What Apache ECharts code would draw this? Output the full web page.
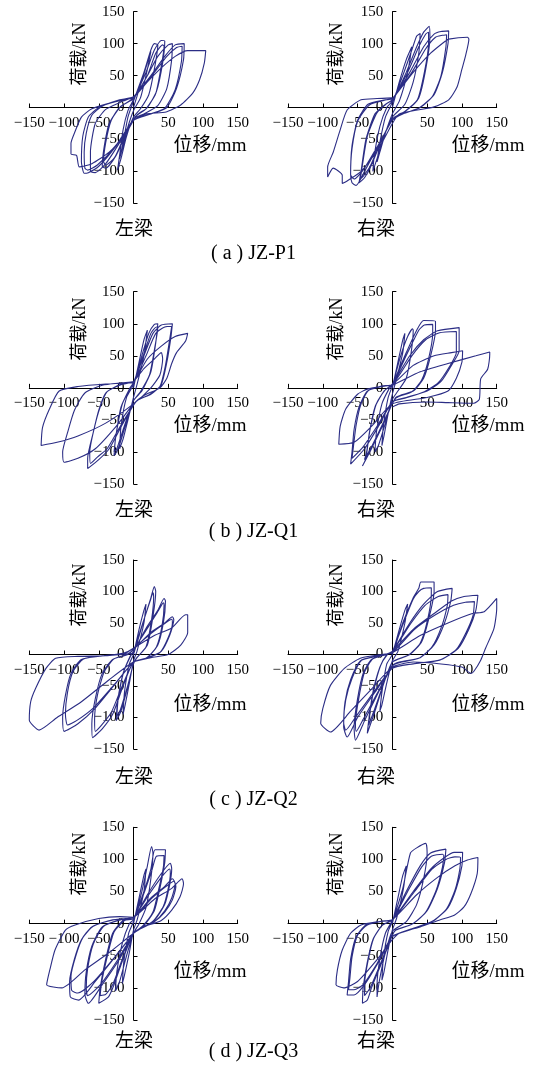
<!DOCTYPE html>
<html>
<head>
<meta charset="utf-8">
<script src="https://cdn.jsdelivr.net/npm/echarts@6/dist/echarts.min.js"></script>
<style>
html, body { margin: 0; padding: 0; background: #fff; }
#main { width: 538px; height: 1073px; }
</style>
</head>
<body>
<div id="main"></div>
<script>
// 刻度
const xTicks = [-150, -100, -50, 0, 50, 100, 150]
const xTickText = ['−150', '−100', '−50', '', '50', '100', '150']
const yTickText = ['−150', '−100', '−50', '0', '50', '100', '150']

const captions = ['( a ) JZ-P1', '( b ) JZ-Q1', '( c ) JZ-Q2', '( d ) JZ-Q3']
const beamNames = ['左梁', '右梁']
const loadName = '荷载/kN'
const dispName = '位移/mm'

// 滞回曲线 [位移, 荷载]
const p1Left = [
  [0,0],[10,35],[20,70],[25,88],[20,60],[10,15],[0,-5],[-8,-30],[-15,-60],[-20,-80],[-15,-55],[-8,-15],[0,10],
  [15,55],[25,90],[30,100],[35,98],[30,60],[22,20],[10,-2],[0,-15],[-10,-45],[-18,-80],[-23,-98],[-20,-75],[-15,-35],[-8,-5],[0,12],
  [18,55],[30,90],[40,105],[45,104],[42,70],[33,25],[20,0],[5,-12],[-10,-40],[-25,-75],[-40,-95],[-45,-92],[-42,-60],[-35,-25],[-20,0],[0,15],
  [20,50],[32,85],[42,98],[44,96],[40,65],[32,22],[18,-2],[3,-14],[-12,-42],[-27,-78],[-40,-90],[-43,-85],[-40,-55],[-32,-20],[-18,2],[0,14],
  [20,50],[35,80],[50,98],[56,100],[55,75],[48,30],[35,3],[15,-10],[0,-18],[-20,-55],[-40,-88],[-55,-102],[-62,-100],[-62,-70],[-55,-25],[-40,-3],[-15,10],[0,17],
  [25,50],[45,80],[60,98],[73,100],[72,75],[62,30],[48,0],[25,-10],[0,-20],[-25,-60],[-50,-92],[-65,-102],[-71,-103],[-75,-85],[-73,-45],[-65,-15],[-50,0],[-20,12],[0,17],
  [28,52],[48,80],[62,94],[70,96],[69,72],[60,28],[45,-1],[22,-11],[0,-20],[-27,-62],[-52,-90],[-66,-98],[-70,-95],[-71,-70],[-68,-40],[-60,-12],[-45,2],[-18,12],[0,16],
  [20,40],[40,62],[60,80],[78,89],[104,89],[102,70],[95,43],[85,22],[68,4],[47,-7],[18,-10],[0,-20],[-15,-45],[-35,-70],[-60,-88],[-78,-93],[-82,-75],[-90,-73],[-90,-56],[-85,-40],[-75,-15],[-60,-2],[-30,8],[0,15]
]
const p1Right = [
  [0,0],[10,40],[20,75],[28,95],[22,55],[10,10],[0,-10],[-10,-40],[-18,-70],[-22,-85],[-18,-55],[-10,-15],[0,8],
  [15,50],[28,90],[35,112],[40,116],[38,85],[30,40],[18,5],[0,-15],[-12,-45],[-22,-80],[-28,-100],[-26,-75],[-18,-30],[-8,0],[0,10],
  [20,55],[35,95],[45,118],[53,127],[54,110],[48,60],[38,15],[20,-5],[0,-18],[-15,-50],[-30,-90],[-40,-110],[-48,-118],[-45,-100],[-38,-50],[-25,-10],[-10,5],[0,12],
  [22,55],[38,95],[48,115],[52,118],[52,100],[46,55],[36,12],[18,-6],[0,-18],[-17,-55],[-32,-92],[-42,-108],[-46,-112],[-43,-90],[-36,-45],[-22,-8],[-8,6],[0,12],
  [25,55],[45,95],[60,115],[70,119],[81,120],[80,100],[72,55],[60,20],[40,0],[15,-10],[0,-20],[-20,-60],[-40,-100],[-52,-122],[-58,-118],[-60,-105],[-58,-60],[-50,-20],[-35,5],[-10,12],[0,14],
  [28,55],[48,92],[62,110],[72,113],[78,114],[77,95],[70,50],[58,18],[38,-1],[12,-11],[0,-20],[-22,-62],[-42,-98],[-55,-112],[-60,-105],[-58,-65],[-50,-22],[-33,4],[-8,12],[0,14],
  [30,55],[55,85],[75,103],[81,107],[108,110],[110,107],[105,80],[100,60],[93,32],[81,12],[60,1],[36,-4],[10,-10],[0,-25],[-20,-65],[-45,-100],[-65,-115],[-72,-119],[-72,-106],[-85,-95],[-93,-109],[-93,-93],[-85,-70],[-75,-35],[-65,-4],[-45,12],[-22,14],[0,15]
]
const q1Left = [
  [0,0],[8,40],[15,75],[20,90],[15,50],[5,5],[0,-15],[-8,-50],[-15,-80],[-20,-95],[-18,-60],[-10,-15],[0,5],
  [12,50],[22,85],[30,99],[35,100],[32,70],[25,25],[12,-5],[0,-20],[-12,-60],[-22,-95],[-28,-106],[-26,-80],[-18,-30],[-5,0],[0,8],
  [14,50],[25,85],[33,95],[35,94],[31,65],[23,20],[10,-6],[0,-20],[-14,-62],[-24,-95],[-28,-100],[-25,-72],[-16,-25],[-4,1],[0,8],
  [15,50],[28,85],[40,98],[56,100],[54,80],[48,40],[40,5],[25,-10],[5,-20],[-15,-55],[-35,-95],[-50,-112],[-66,-126],[-66,-110],[-58,-70],[-50,-35],[-40,-8],[-20,5],[0,10],
  [18,50],[32,85],[45,95],[55,96],[52,75],[46,35],[38,2],[22,-11],[5,-20],[-18,-58],[-38,-95],[-52,-108],[-62,-118],[-63,-100],[-57,-65],[-48,-30],[-38,-6],[-18,5],[0,10],
  [20,45],[40,65],[60,80],[78,85],[75,73],[62,55],[55,38],[48,15],[38,0],[15,-12],[0,-25],[-25,-60],[-55,-95],[-80,-110],[-100,-116],[-102,-100],[-95,-70],[-85,-35],[-70,-8],[-45,4],[-15,8],[0,10],
  [15,30],[30,45],[40,55],[42,45],[38,20],[25,0],[0,-25],[-40,-55],[-80,-75],[-110,-85],[-133,-90],[-131,-62],[-121,-33],[-107,-5],[-80,2],[-40,6],[0,8]
]
const q1Right = [
  [0,0],[8,40],[15,75],[18,85],[15,55],[5,10],[0,-10],[-6,-40],[-12,-75],[-15,-90],[-13,-60],[-6,-15],[0,3],
  [12,50],[22,80],[29,92],[30,90],[27,55],[20,15],[8,-5],[0,-18],[-10,-55],[-20,-90],[-25,-100],[-23,-70],[-15,-25],[-5,-2],[0,5],
  [20,55],[35,90],[45,105],[62,104],[62,90],[55,50],[45,15],[30,-5],[5,-15],[-10,-50],[-30,-95],[-43,-122],[-38,-110],[-33,-70],[-25,-30],[-12,-5],[0,6],
  [22,55],[38,90],[46,98],[58,99],[58,85],[52,45],[42,12],[28,-6],[5,-16],[-12,-52],[-30,-92],[-40,-112],[-37,-100],[-32,-65],[-23,-25],[-10,-3],[0,6],
  [25,50],[45,75],[65,89],[96,94],[96,58],[86,37],[70,10],[50,-5],[20,-15],[0,-22],[-20,-60],[-40,-95],[-60,-119],[-58,-100],[-55,-65],[-48,-30],[-36,-5],[-15,3],[0,5],
  [28,50],[48,75],[68,86],[92,88],[92,55],[82,33],[66,8],[46,-6],[18,-16],[0,-22],[-22,-60],[-42,-92],[-58,-110],[-56,-92],[-52,-58],[-45,-25],[-34,-4],[-12,3],[0,5],
  [30,35],[60,50],[85,55],[101,58],[100,40],[92,15],[80,-5],[50,-15],[0,-25],[-30,-60],[-55,-85],[-77,-88],[-75,-60],[-67,-33],[-50,-10],[-36,-2],[-10,3],[0,4],
  [40,25],[80,38],[120,50],[140,56],[140,52],[137,29],[127,14],[125,-18],[117,-24],[80,-23],[50,-22],[10,-25],[0,-30]
]
const q2Left = [
  [0,0],[8,40],[15,70],[18,80],[15,50],[5,5],[0,-10],[-5,-40],[-12,-80],[-15,-95],[-13,-60],[-6,-15],[0,0],
  [15,55],[25,90],[30,108],[32,100],[28,60],[20,15],[5,-5],[0,-15],[-8,-50],[-18,-90],[-25,-105],[-23,-75],[-15,-30],[-5,-3],[0,5],
  [14,52],[24,85],[28,98],[29,92],[26,55],[18,12],[4,-6],[0,-15],[-9,-52],[-19,-88],[-24,-98],[-22,-70],[-14,-27],[-4,-2],[0,5],
  [20,45],[35,70],[44,89],[46,85],[43,50],[35,15],[20,-5],[0,-12],[-15,-50],[-30,-95],[-45,-118],[-59,-132],[-60,-110],[-55,-70],[-45,-30],[-30,-8],[-10,0],[0,8],
  [22,45],[36,70],[43,82],[44,78],[41,45],[33,12],[18,-6],[0,-12],[-17,-52],[-32,-92],[-46,-112],[-55,-122],[-56,-103],[-52,-65],[-42,-27],[-28,-7],[-8,0],[0,8],
  [25,35],[45,50],[56,60],[58,55],[52,30],[40,5],[20,-5],[0,-12],[-25,-45],[-55,-85],[-80,-110],[-100,-122],[-102,-100],[-98,-65],[-90,-30],[-75,-8],[-45,-2],[-15,2],[0,10],
  [27,35],[46,50],[55,56],[56,50],[50,27],[38,3],[18,-6],[0,-12],[-28,-48],[-58,-85],[-82,-105],[-95,-112],[-98,-95],[-95,-60],[-87,-27],[-72,-7],[-42,-2],[-12,2],[0,10],
  [30,30],[55,42],[75,63],[78,63],[78,35],[68,15],[50,0],[25,-5],[0,-12],[-35,-40],[-75,-75],[-110,-100],[-136,-120],[-150,-104],[-148,-75],[-141,-54],[-126,-22],[-112,-6],[-80,-3],[-40,-2],[0,2]
]
const q2Right = [
  [0,0],[10,40],[18,70],[22,80],[18,50],[8,5],[0,-10],[-8,-45],[-15,-80],[-18,-90],[-15,-60],[-8,-15],[0,0],
  [15,50],[30,90],[38,105],[41,115],[60,115],[60,100],[52,55],[42,20],[25,0],[0,-12],[-12,-45],[-25,-90],[-36,-125],[-34,-105],[-28,-60],[-18,-20],[-8,0],[0,5],
  [16,50],[30,88],[38,100],[45,105],[56,106],[56,95],[50,52],[40,18],[23,-1],[0,-12],[-13,-48],[-26,-88],[-34,-112],[-33,-98],[-27,-58],[-17,-18],[-7,0],[0,5],
  [25,50],[45,80],[65,100],[86,105],[84,85],[75,50],[60,15],[40,-5],[10,-12],[0,-18],[-20,-60],[-40,-105],[-53,-136],[-55,-115],[-50,-70],[-42,-30],[-30,-8],[-10,0],[0,5],
  [27,50],[47,78],[66,92],[80,95],[79,78],[71,45],[57,12],[38,-6],[10,-13],[0,-18],[-22,-62],[-42,-103],[-52,-122],[-53,-108],[-48,-68],[-40,-28],[-28,-7],[-8,0],[0,5],
  [30,40],[60,65],[85,85],[103,92],[123,94],[120,70],[110,40],[95,10],[70,-8],[30,-15],[0,-22],[-25,-60],[-50,-100],[-65,-131],[-70,-115],[-68,-75],[-60,-40],[-46,-10],[-20,-2],[0,3],
  [32,40],[62,63],[88,78],[105,83],[118,84],[116,62],[106,35],[92,8],[68,-9],[28,-15],[0,-22],[-27,-60],[-52,-98],[-67,-120],[-70,-108],[-67,-72],[-58,-38],[-44,-9],[-18,-2],[0,3],
  [40,30],[80,50],[115,65],[132,68],[150,89],[150,73],[146,41],[134,10],[127,-9],[117,-27],[113,-30],[100,-20],[70,-15],[30,-12],[0,-20],[-30,-55],[-60,-90],[-89,-123],[-103,-109],[-100,-86],[-89,-49],[-69,-22],[-46,-6],[-15,0],[0,2]
]
const q3Left = [
  [0,0],[8,40],[15,75],[18,85],[15,50],[5,5],[0,-10],[-6,-45],[-13,-80],[-16,-93],[-14,-60],[-7,-15],[0,3],
  [12,50],[20,90],[26,120],[28,110],[25,70],[18,25],[8,0],[0,-15],[-10,-50],[-20,-90],[-26,-105],[-24,-75],[-16,-30],[-6,0],[0,6],
  [15,50],[25,85],[31,115],[46,115],[45,95],[38,55],[30,20],[15,-3],[0,-15],[-15,-55],[-28,-95],[-36,-114],[-50,-124],[-48,-100],[-40,-55],[-30,-15],[-15,5],[0,8],
  [16,50],[27,85],[33,105],[44,106],[43,88],[36,52],[28,18],[13,-4],[0,-15],[-16,-55],[-30,-95],[-40,-110],[-48,-112],[-46,-92],[-38,-52],[-28,-13],[-13,5],[0,8],
  [20,45],[38,75],[53,94],[55,85],[52,60],[45,30],[30,5],[10,-8],[0,-15],[-20,-55],[-45,-95],[-65,-124],[-70,-110],[-68,-75],[-60,-35],[-45,-5],[-20,6],[0,10],
  [22,45],[40,72],[52,85],[53,78],[50,55],[43,27],[28,4],[8,-9],[0,-15],[-22,-55],[-47,-94],[-66,-112],[-68,-100],[-66,-70],[-58,-32],[-43,-4],[-18,6],[0,10],
  [25,40],[45,58],[56,70],[60,62],[55,40],[45,20],[30,3],[10,-8],[0,-15],[-25,-50],[-55,-90],[-79,-119],[-91,-114],[-92,-90],[-85,-55],[-75,-25],[-60,-5],[-30,6],[0,10],
  [27,40],[47,58],[58,66],[61,58],[56,37],[45,18],[29,2],[9,-8],[0,-15],[-27,-52],[-57,-90],[-80,-108],[-89,-104],[-90,-82],[-83,-50],[-73,-22],[-58,-4],[-28,6],[0,10],
  [30,38],[55,55],[70,70],[72,62],[67,42],[55,21],[40,5],[15,-5],[0,-15],[-35,-45],[-70,-72],[-103,-100],[-125,-95],[-120,-70],[-113,-41],[-98,-10],[-84,-2],[-50,8],[-20,11],[0,10]
]
const q3Right = [
  [0,0],[8,40],[15,75],[20,90],[16,55],[6,8],[0,-10],[-6,-40],[-12,-75],[-15,-88],[-13,-55],[-6,-12],[0,3],
  [15,55],[26,110],[35,118],[48,125],[50,110],[45,70],[35,30],[20,3],[0,-12],[-10,-45],[-18,-85],[-22,-114],[-22,-95],[-18,-55],[-10,-15],[0,5],
  [20,50],[40,90],[55,110],[77,116],[75,95],[65,55],[50,20],[30,0],[5,-10],[0,-18],[-15,-60],[-30,-100],[-36,-119],[-43,-124],[-42,-100],[-36,-60],[-28,-25],[-15,-3],[0,6],
  [22,50],[42,88],[56,105],[72,108],[74,106],[72,88],[63,52],[48,18],[28,-1],[5,-10],[0,-18],[-17,-62],[-32,-100],[-40,-112],[-40,-95],[-35,-58],[-27,-23],[-14,-2],[0,6],
  [30,50],[55,85],[75,103],[89,111],[101,111],[100,90],[92,55],[80,25],[60,5],[30,-8],[0,-20],[-20,-60],[-40,-95],[-55,-111],[-65,-111],[-63,-90],[-60,-55],[-52,-20],[-38,-2],[-15,4],[0,6],
  [32,50],[57,85],[77,100],[90,104],[98,103],[97,85],[90,52],[78,23],[58,4],[28,-8],[0,-20],[-22,-62],[-42,-95],[-55,-103],[-63,-103],[-61,-85],[-58,-52],[-50,-18],[-36,-2],[-13,4],[0,6],
  [35,45],[65,72],[90,90],[108,99],[123,103],[122,78],[113,47],[103,26],[89,13],[69,6],[40,-5],[10,-15],[0,-25],[-25,-60],[-50,-90],[-70,-100],[-81,-95],[-79,-72],[-72,-41],[-60,-15],[-45,-2],[-20,3],[0,5]
]

const curves = [p1Left, p1Right, q1Left, q1Right, q2Left, q2Right, q3Left, q3Right]

// 版面
const rowTop = [11.7, 291.7, 560, 827.3]
const rowHeight = [191.6, 192.3, 189, 192.7]
const colLeft = [29.3, 288]
const colWidth = [208.4, 208.7]
const loadNameX = [80, 337], loadNameY = [54, 329, 595, 864]
const dispNameX = [210, 488], dispNameY = [146, 426.5, 705, 972]
const beamX = [134, 376], beamY = [230, 511, 778, 1042]
const capX = 253.5, capY = [254, 532, 800, 1052]

const lineColor = '#2b2d85'
const serif = "'Liberation Serif', 'Noto Sans CJK SC', serif"

let myChart = echarts.init(document.getElementById('main'))

let grid = [], xAxis = [], yAxis = [], series = [], graphic = []

curves.forEach((data, i) => {
  let r = Math.floor(i / 2), c = i % 2
  grid.push({
    left: colLeft[c], top: rowTop[r], width: colWidth[c], height: rowHeight[r],
    outerBoundsMode: 'none'
  })
  // 坐标轴移到零点（对称范围，偏移半个宽/高）
  xAxis.push({
    type: 'value', gridIndex: i, min: -150, max: 150, interval: 50,
    position: 'bottom', offset: -rowHeight[r] / 2,
    axisLine: { onZero: false, lineStyle: { color: '#000', width: 1 } },
    axisTick: { inside: true, length: 4, lineStyle: { color: '#000' } },
    axisLabel: {
      color: '#000', fontSize: 15, fontFamily: serif, margin: 8,
      formatter: v => xTickText[xTicks.indexOf(v)]
    },
    splitLine: { show: false }
  })
  yAxis.push({
    type: 'value', gridIndex: i, min: -150, max: 150, interval: 50,
    position: 'left', offset: -colWidth[c] / 2,
    axisLine: { onZero: false, lineStyle: { color: '#000', width: 1 } },
    axisTick: { inside: true, length: 4, lineStyle: { color: '#000' } },
    axisLabel: {
      color: '#000', fontSize: 15, fontFamily: serif, margin: 9,
      formatter: v => yTickText[xTicks.indexOf(v)]
    },
    splitLine: { show: false }
  })
  series.push({
    type: 'line', xAxisIndex: i, yAxisIndex: i, data: data,
    showSymbol: false, smooth: 0.2, animation: false,
    lineStyle: { color: lineColor, width: 1.1 }
  })
  graphic.push({
    type: 'text', x: loadNameX[c], y: loadNameY[r], rotation: Math.PI / 2,
    style: { text: loadName, font: "18px " + serif, fill: '#000', align: 'center', verticalAlign: 'middle' }
  })
  graphic.push({
    type: 'text', x: dispNameX[c], y: dispNameY[r],
    style: { text: dispName, font: "19px " + serif, fill: '#000', align: 'center', verticalAlign: 'middle' }
  })
  graphic.push({
    type: 'text', x: beamX[c], y: beamY[r],
    style: { text: beamNames[c], font: "19px " + serif, fill: '#000', align: 'center', verticalAlign: 'middle' }
  })
})

captions.forEach((t, r) => {
  graphic.push({
    type: 'text', x: capX, y: capY[r],
    style: { text: t, font: "20px " + serif, fill: '#000', align: 'center', verticalAlign: 'middle' }
  })
})

myChart.setOption({
  animation: false,
  grid: grid,
  xAxis: xAxis,
  yAxis: yAxis,
  series: series,
  graphic: graphic
})
</script>
</body>
</html>
